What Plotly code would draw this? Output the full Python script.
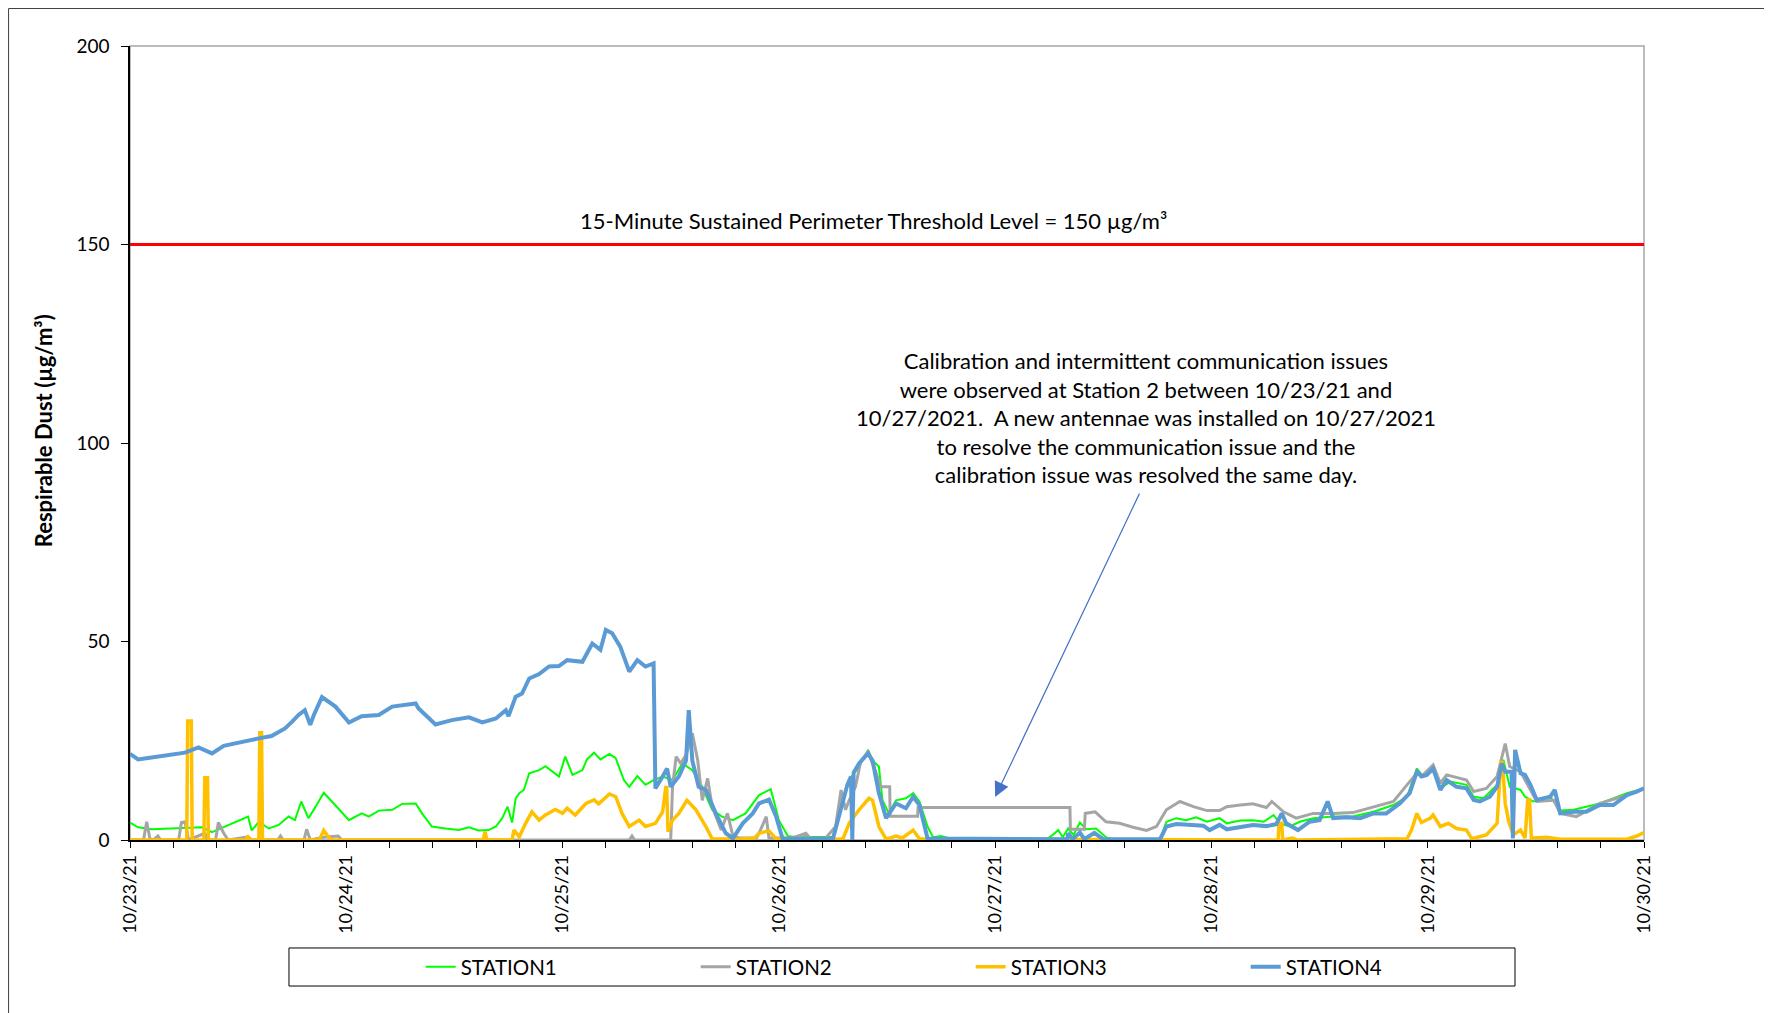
import pandas as pd
import plotly.graph_objects as go

# hours after 10/23/21 00:00 and readings (ug/m3)
s1_hours = [0, 0.9, 2.4, 4.3, 6.1, 8, 9.1, 10.6, 11.7, 13.1, 13.5, 14.3, 15.4, 16.5, 17.6, 18.3, 19, 19.8,
            20.6, 21.5, 22.4, 23.3, 24.3, 25.7, 26.5, 27.6, 29.1, 30.2, 31.7, 32.4, 33.5, 35, 36.5, 37.6,
            38.7, 39.8, 40.6, 41.3, 41.9, 42.4, 42.8, 43.2, 43.7, 44.3, 45.4, 46.1, 46.9, 47.6, 48.3, 49.1,
            50.2, 50.7, 51.5, 52.2, 53.2, 53.9, 54.8, 55.4, 56.3, 57.2, 58.1, 59.1, 60.2, 61.3, 62.4, 63.5,
            64.6, 65.7, 66.9, 68.3, 69.8, 71.1, 72, 73, 74, 78, 78.7, 79.8, 80.9, 81.9, 82.4, 83.1, 83.5,
            84.2, 85, 86.1, 86.9, 87.6, 88.5, 89.1, 90, 91.3, 101.7, 102.4, 103, 103.5, 104.1, 104.7, 105.4,
            106.1, 107.2, 108.3, 109, 114.3, 115, 116.1, 117.2, 118.3, 119.5, 120.9, 121.7, 123.2, 124.6,
            125.8, 126.9, 127.6, 128.7, 129.8, 131.3, 133.5, 135.7, 138, 140.2, 141.7, 142.8, 143.5, 144.6,
            145.4, 146.5, 148.3, 149.1, 150.2, 151.7, 152.4, 153.1, 154.3, 154.8, 155.7, 157.6, 158.7,
            160.2, 163.1, 166.1, 168]
s1_vals = [4.4, 3.2, 2.7, 2.9, 2.9, 3.2, 2.0, 3.4, 4.6, 5.9, 2.4, 4.6, 2.9, 3.8, 5.9, 5.0, 9.7, 5.5,
           8.4, 11.9, 9.7, 7.6, 5.0, 6.7, 5.9, 7.4, 7.6, 9.1, 9.2, 6.7, 3.4, 2.9, 2.5, 3.2,
           2.4, 2.5, 3.4, 5.5, 8.4, 4.4, 10.5, 11.8, 12.6, 16.8, 17.6, 18.6, 17.2, 16.0, 21.0, 16.4,
           17.6, 20.3, 22.0, 20.3, 21.7, 20.6, 15.1, 13.4, 16.1, 13.9, 15.1, 16.0, 15.1, 19.3, 17.6, 13.4,
           7.6, 5.9, 5.0, 6.7, 11.3, 12.8, 5.0, 1.0, 0.7, 0.8, 7.6, 15.1, 18.5, 22.7, 20.0, 18.5, 10.0,
           6.7, 10.0, 10.5, 11.8, 9.7, 3.4, 0.7, 1.0, 0.2, 0.2, 1.3, 2.5, 0.7, 2.9, 1.3, 4.4,
           2.7, 2.9, 0.7, 0.1, 0.1, 4.6, 5.5, 5.0, 5.7, 4.6, 5.5, 4.2, 4.9, 5.0,
           4.6, 6.3, 4.2, 3.4, 4.6, 5.5, 5.9, 5.9, 7.1, 8.8, 10.9, 18.0, 16.0, 18.0,
           13.0, 14.7, 13.9, 10.9, 10.5, 13.9, 20.2, 13.4, 12.6, 10.9, 9.7, 10.9, 7.4,
           7.6, 9.2, 11.8, 13.0]

s2_hours = [0, 1.5, 1.85, 2.2, 2.6, 3.1, 3.4, 5.4, 5.7, 6.1, 6.5, 8.3, 8.6, 9.5, 9.8, 10.4, 10.9, 13.1,
            13.4, 16.4, 16.7, 17, 19.3, 19.6, 20, 21.5, 23.1, 23.5, 55.4, 55.7, 56, 60, 60.2, 60.6, 61.1,
            61.7, 62.4, 63, 63.5, 64.1, 64.6, 65.6, 66.3, 66.9, 67.6, 69.5, 69.8, 70.6, 70.9, 73.5, 75,
            75.5, 77.2, 78.3, 78.9, 79.4, 79.8, 80.5, 81.1, 81.9, 82.8, 83.3, 84.3, 84.35, 87.4, 87.45,
            104.3, 104.35, 105.9, 106.0, 107.1, 108.3, 109.8, 111.3, 112.8, 113.9, 115, 116.5, 118, 119.5,
            120.9, 121.7, 123.2, 124.6, 126.1, 126.7, 128, 129.4, 131.3, 133.5, 135.7, 138, 140.2, 142,
            142.8, 143.5, 144.6, 145.4, 146.1, 148.3, 149.1, 150.5, 151.7, 152.6, 153.1, 154.3, 155.4,
            156.1, 158, 158.7, 160.5, 163.1, 166.1, 168]
s2_vals = [0, 0, 4.6, 0.4, 0, 1.0, 0, 0, 4.4, 4.6, 0, 1.7, 0, 0, 4.4, 1.7, 0, 0.8,
           0, 0, 1.0, 0, 0, 2.7, 0, 0.7, 1.0, 0, 0, 1.0, 0, 0, 13.4, 21.0, 19.3,
           21.4, 26.9, 20.0, 10.0, 15.5, 8.4, 2.5, 6.7, 1.0, 0.5, 0.5, 1.7, 5.9, 0.5, 0.5, 1.7,
           0.3, 0.5, 3.4, 12.6, 7.6, 10.0, 13.4, 20.0, 22.2, 16.8, 13.4, 13.4, 6.0, 6.0, 8.2,
           8.2, 2.7, 2.7, 6.7, 7.1, 4.6, 4.2, 3.2, 2.4, 3.4, 7.6, 9.7, 8.4, 7.4,
           7.4, 8.4, 8.8, 9.1, 8.2, 9.7, 7.1, 5.5, 6.7, 6.7, 6.9, 8.4, 9.7, 14.7,
           16.8, 16.4, 18.9, 14.3, 16.4, 15.1, 12.2, 13.0, 16.0, 24.3, 18.5, 17.2, 12.6,
           9.7, 10.0, 6.7, 5.9, 9.2, 11.3, 13.0]

s3_hours = [0, 6.3, 6.4, 6.8, 6.9, 8.2, 8.3, 8.6, 8.7, 12.8, 13.1, 13.5, 14.3, 14.4, 14.6, 14.7, 21,
            21.5, 22.1, 22.5, 39.2, 39.4, 39.6, 42.4, 42.6, 43.2, 43.9, 44.6, 45.4, 46.1, 47.2, 48, 48.5,
            49.4, 50.6, 51.5, 52, 53.2, 53.9, 54.6, 55.4, 56.5, 57.2, 58.3, 59.1, 59.45, 59.55, 59.7,
            60.2, 60.9, 61.8, 62.8, 63.9, 64.6, 67.6, 69.3, 69.8, 70.9, 71.7, 79.1, 79.8, 80.9, 82, 82.4,
            83.1, 83.9, 85, 85.7, 86.9, 87.6, 127.4, 127.5, 127.8, 127.9, 129, 129.5, 141.7, 142.2, 142.8,
            143.3, 144.3, 144.6, 145.4, 146.3, 147.2, 148.3, 148.9, 150.5, 151.7, 152.1, 152.3, 152.6, 153,
            153.5, 154.3, 154.8, 155.1, 155.3, 155.5, 157.2, 158.7, 166.1, 167.2, 168]
s3_vals = [0, 0, 30, 30, 0, 0, 15.7, 15.7, 0, 0, 0.8, 0, 0, 27, 27, 0, 0,
           2.4, 0.5, 0, 0, 2.1, 0, 0, 2.5, 0.8, 4.2, 7.1, 5.0, 6.3, 7.7, 6.7, 8.0,
           6.3, 9.2, 10.1, 9.1, 11.6, 10.9, 6.7, 3.4, 5.0, 3.4, 4.2, 7.1, 13.2, 13.2, 2.1,
           5.0, 6.7, 10.0, 7.6, 3.4, 0.3, 0.2, 0.5, 1.7, 2.3, 0.3, 0.2, 4.2, 7.6, 10.5, 10.0,
           3.4, 0.2, 1.0, 0.5, 2.5, 0.3, 0, 4.2, 4.2, 0, 0.5, 0, 0.3, 2.5, 6.7,
           4.4, 5.5, 6.3, 3.4, 4.2, 2.9, 2.5, 0.3, 1.3, 4.2, 19.5, 19.5, 9.2, 4.6,
           1.3, 2.5, 0.5, 10.1, 10.1, 0.5, 0.7, 0.2, 0.2, 1.0, 1.9]

s4_hours = [0, 0.9, 2.4, 4.3, 6.1, 7.6, 9.1, 10.4, 12.4, 14.3, 15.7, 17.2, 18, 18.7, 19.4, 20, 20.4, 21.3,
            22.8, 24.3, 25.7, 27.6, 29.1, 31.7, 32, 33.9, 35.7, 37.6, 39.1, 40.6, 41.7, 42, 42.8, 43.5,
            44.3, 45.4, 46.5, 47.6, 48.5, 50.2, 51.3, 52.2, 52.8, 53.5, 54.4, 55.4, 56.3, 57.2, 58.1, 58.3,
            59.1, 59.6, 60, 60.9, 61.7, 62, 62.4, 63.1, 63.9, 65, 66.1, 66.9, 68, 69.1, 69.8, 70.9, 71.7,
            72.4, 78, 78.7, 79.6, 80, 80.15, 80.3, 80.9, 81.9, 82.4, 83.1, 83.9, 85, 86.1, 86.9, 87.6,
            88.5, 104, 104.1, 104.6, 105.4, 105.9, 107, 108, 114.3, 115, 116.1, 119.1, 119.8, 120.9,
            121.7, 123.2, 124.6, 126.1, 127.2, 127.8, 128.3, 129.6, 130.9, 132, 132.9, 133.5, 135, 136.5,
            138, 139.4, 140.9, 142, 142.8, 143.3, 143.9, 144.6, 145.4, 146.1, 147.2, 148.3, 149.1, 149.8,
            150.9, 151.7, 152.2, 152.6, 153.3, 153.45, 153.7, 154.3, 154.8, 155.4, 156.1, 157.6, 158.1,
            158.7, 160.2, 161.6, 163.1, 164.6, 166.1, 167.2, 168]
s4_vals = [21.7, 20.3, 20.8, 21.4, 22.0, 23.3, 21.8, 23.7, 24.8, 25.6, 26.2, 28.1, 29.8, 31.5, 32.7, 29.0, 31.5, 36.0,
           33.6, 29.6, 31.2, 31.5, 33.6, 34.4, 33.2, 29.1, 30.2, 30.9, 29.6, 30.6, 32.7, 31.2, 36.1, 36.9,
           40.7, 41.8, 43.7, 43.8, 45.3, 44.9, 49.5, 47.9, 52.9, 52.1, 48.7, 42.4, 45.3, 43.7, 44.5, 13.0,
           16.0, 18.0, 13.4, 16.0, 20.0, 32.7, 20.0, 13.4, 12.6, 6.7, 1.7, 0.4, 4.2, 6.7, 9.2, 10.2, 5.9,
           0.4, 0.3, 6.7, 13.9, 16.0, 0, 17.0, 19.3, 21.8, 20.0, 11.8, 5.5, 9.2, 8.0, 10.9, 8.8,
           0.4, 0.2, 1.7, 0.2, 1.9, 0.2, 1.8, 0.2, 0.2, 3.4, 4.0, 3.6, 2.5, 3.8,
           2.7, 3.4, 3.8, 3.5, 4.0, 6.7, 4.2, 2.5, 4.6, 5.0, 9.7, 5.5, 5.7, 5.5,
           6.7, 6.7, 9.2, 11.8, 17.2, 16.0, 16.4, 18.0, 12.6, 15.1, 13.4, 13.0, 10.1, 9.7,
           10.9, 13.4, 19.3, 17.2, 17.2, 0.4, 22.7, 16.8, 16.4, 13.9, 10.1, 10.9, 12.6,
           6.7, 7.1, 7.1, 8.8, 8.8, 11.3, 12.2, 13.0]

station_names = ["STATION1", "STATION2", "STATION3", "STATION4"]
station_colors = ["#00FF00", "#A5A5A5", "#FFC000", "#5B9BD5"]
station_widths = [2, 3, 3.5, 4]
threshold = 150

base = pd.Timestamp("2021-10-23")
series = [(s1_hours, s1_vals), (s2_hours, s2_vals), (s3_hours, s3_vals), (s4_hours, s4_vals)]

FONT = "Lato, 'Open Sans', sans-serif"

fig = go.Figure()
for (hrs, vals), name, col, w in zip(series, station_names, station_colors, station_widths):
    fig.add_trace(go.Scatter(x=base + pd.to_timedelta(hrs, unit="h"), y=vals, mode="lines",
                             name=name, line=dict(color=col, width=w)))

x_end = base + pd.Timedelta(days=7)

# page body has an 8px margin, so the figure is a bit smaller than the window
fig.update_layout(
    width=1764, height=1005,
    margin=dict(l=122, r=128, t=38, b=173),
    paper_bgcolor="white", plot_bgcolor="white",
    font=dict(family=FONT, size=19, color="black"),
    showlegend=True,
    legend=dict(orientation="h", x=0.192, xanchor="left", y=-0.16, yanchor="middle",
                entrywidth=230, entrywidthmode="pixels", font=dict(size=20.5),
                bgcolor="rgba(0,0,0,0)"),
)
fig.update_xaxes(type="date", range=[base, x_end], dtick=86400000, tick0=base,
                 tickformat="%m/%d/%y", tickangle=-90, ticks="outside", ticklen=6,
                 tickfont=dict(size=18),
                 tickcolor="black", showgrid=False, showline=True, linecolor="black", linewidth=1.5,
                 minor=dict(dtick=17280000, ticks="outside", ticklen=6, tickcolor="black", showgrid=False),
                 zeroline=False)
fig.update_yaxes(range=[0, 200], dtick=50, ticks="outside", ticklen=7, tickcolor="black",
                 ticklabelstandoff=8,
                 showgrid=False, showline=True, linecolor="black", linewidth=1.5, zeroline=False)

# plot frame, chart border, legend box, threshold line
fig.add_shape(type="rect", xref="paper", yref="paper", x0=0, x1=1, y0=0, y1=1,
              line=dict(color="#A6A6A6", width=1.5), layer="below")
fig.add_shape(type="rect", xref="paper", yref="paper", x0=-0.0802, x1=1.0832, y0=-0.25, y1=1.0472,
              line=dict(color="#404040", width=1))
fig.add_shape(type="rect", xref="paper", yref="paper", x0=0.105, x1=0.9148, y0=-0.1839, y1=-0.136,
              line=dict(color="black", width=1))
fig.add_shape(type="line", xref="paper", yref="y", x0=0, x1=1, y0=threshold, y1=threshold,
              line=dict(color="#FF0000", width=3))

fig.add_annotation(xref="paper", yref="y", x=0.491, xanchor="center", y=threshold + 6, showarrow=False,
                   text="15-Minute Sustained Perimeter Threshold Level = 150 µg/m³",
                   font=dict(size=22))
fig.add_annotation(xref="paper", yref="y", x=0.671, xanchor="center", y=106.5, showarrow=False,
                   text=("Calibration and intermittent communication issues<br>"
                         "were observed at Station 2 between 10/23/21 and<br>"
                         "10/27/2021.  A new antennae was installed on 10/27/2021<br>"
                         "to resolve the communication issue and the<br>"
                         "calibration issue was resolved the same day."),
                   font=dict(size=22))
fig.add_annotation(x=base + pd.Timedelta(hours=96), y=10.8, text="", showarrow=True,
                   ax=145, ay=-305, arrowcolor="#4472C4", arrowwidth=1.2, arrowhead=2, arrowsize=2.5)
fig.add_annotation(xref="paper", yref="paper", x=-0.0575, xanchor="center", y=0.516, yanchor="middle",
                   showarrow=False, textangle=-90,
                   text="<b>Respirable Dust (µg/m³)</b>", font=dict(size=22))

fig.write_html("out.html")
